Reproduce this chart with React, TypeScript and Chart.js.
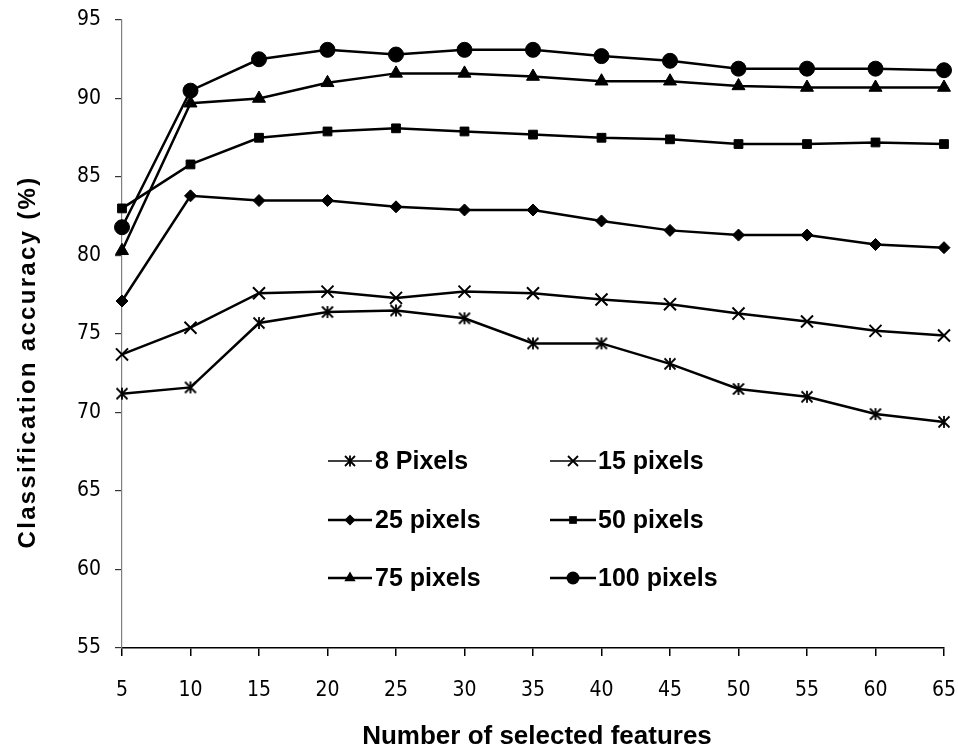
import React, { useEffect, useRef } from "react";
import { Chart, registerables } from "chart.js";

Chart.register(...registerables);

const categories = ["5", "10", "15", "20", "25", "30", "35", "40", "45", "50", "55", "60", "65"];
const px8 = [71.2, 71.6, 75.7, 76.4, 76.5, 76.0, 74.4, 74.4, 73.1, 71.5, 71.0, 69.9, 69.4];
const px15 = [73.7, 75.4, 77.6, 77.7, 77.3, 77.7, 77.6, 77.2, 76.9, 76.3, 75.8, 75.2, 74.9];
const px25 = [77.1, 83.8, 83.5, 83.5, 83.1, 82.9, 82.9, 82.2, 81.6, 81.3, 81.3, 80.7, 80.5];
const px50 = [83.0, 85.8, 87.5, 87.9, 88.1, 87.9, 87.7, 87.5, 87.4, 87.1, 87.1, 87.2, 87.1];
const px75 = [80.3, 89.7, 90.0, 91.0, 91.6, 91.6, 91.4, 91.1, 91.1, 90.8, 90.7, 90.7, 90.7];
const px100 = [81.8, 90.5, 92.5, 93.1, 92.8, 93.1, 93.1, 92.7, 92.4, 91.9, 91.9, 91.9, 91.8];
const seriesNames = ["8 Pixels", "15 pixels", "25 pixels", "50 pixels", "75 pixels", "100 pixels"];
const markerKinds = ["asterisk", "cross", "diamond", "square", "triangle", "circle"];
const yTitle = "Classification accuracy (%)";
const xTitle = "Number of selected features";

function drawMarker(ctx: CanvasRenderingContext2D, kind: string, x: number, y: number, s: number) {
  ctx.save();
  ctx.fillStyle = "#000";
  ctx.strokeStyle = "#000";
  ctx.beginPath();
  if (kind === "circle") {
    ctx.arc(x, y, s, 0, Math.PI * 2);
    ctx.fill();
  } else if (kind === "square") {
    ctx.rect(x - s * 0.7, y - s * 0.7, s * 1.4, s * 1.4);
    ctx.fill();
  } else if (kind === "diamond") {
    ctx.moveTo(x, y - s);
    ctx.lineTo(x + s, y);
    ctx.lineTo(x, y + s);
    ctx.lineTo(x - s, y);
    ctx.closePath();
    ctx.fill();
  } else if (kind === "triangle") {
    const h = s * 1.5;
    const w = s * Math.sqrt(3);
    ctx.moveTo(x, y - s);
    ctx.lineTo(x + w / 2, y - s + h);
    ctx.lineTo(x - w / 2, y - s + h);
    ctx.closePath();
    ctx.fill();
  } else if (kind === "cross") {
    ctx.lineWidth = 1.8;
    ctx.moveTo(x - s, y - s);
    ctx.lineTo(x + s, y + s);
    ctx.moveTo(x + s, y - s);
    ctx.lineTo(x - s, y + s);
    ctx.stroke();
  } else if (kind === "asterisk") {
    ctx.lineWidth = 1.8;
    ctx.moveTo(x - s, y - s);
    ctx.lineTo(x + s, y + s);
    ctx.moveTo(x + s, y - s);
    ctx.lineTo(x - s, y + s);
    ctx.moveTo(x, y - s * 1.1);
    ctx.lineTo(x, y + s * 1.1);
    ctx.stroke();
  }
  ctx.restore();
}

function makeAsterisk(): HTMLCanvasElement {
  const c = document.createElement("canvas");
  c.width = 16;
  c.height = 16;
  const ctx = c.getContext("2d")!;
  drawMarker(ctx, "asterisk", 8, 8, 5.5);
  return c;
}

const tickFont = "'DejaVu Sans Condensed', 'Liberation Sans Narrow', 'Liberation Sans', sans-serif";

export default function App() {
  const ref = useRef<HTMLCanvasElement | null>(null);

  useEffect(() => {
    if (!ref.current) return;
    const asterisk = makeAsterisk();
    const overlay = {
      id: "overlay",
      afterDraw(chart: any) {
        const ctx: CanvasRenderingContext2D = chart.ctx;
        ctx.save();
        ctx.fillStyle = "#000";
        ctx.textAlign = "center";
        ctx.textBaseline = "middle";
        ctx.font = "bold 26px 'Liberation Sans', Arial, sans-serif";
        ctx.fillText(xTitle, 537, 737);
        ctx.save();
        ctx.translate(28, 362);
        ctx.rotate(-Math.PI / 2);
        ctx.font = "bold 24px 'Liberation Sans', Arial, sans-serif";
        (ctx as any).letterSpacing = "2.3px";
        ctx.fillText(yTitle, 0, 0);
        ctx.restore();
        const cols = [
          { lx1: 328, lx2: 372, tx: 375 },
          { lx1: 550, lx2: 596, tx: 598 },
        ];
        const rows = [461, 520, 578];
        const legendSizes = [5, 5, 5.5, 5.5, 6.5, 6.5];
        ctx.font = "bold 25px 'Liberation Sans', Arial, sans-serif";
        ctx.textAlign = "left";
        for (let i = 0; i < seriesNames.length; i++) {
          const col = cols[i % 2];
          const y = rows[Math.floor(i / 2)];
          ctx.beginPath();
          ctx.strokeStyle = "#000";
          ctx.lineWidth = i < 2 ? 1.6 : 2.5;
          ctx.moveTo(col.lx1, y);
          ctx.lineTo(col.lx2, y);
          ctx.stroke();
          drawMarker(ctx, markerKinds[i], (col.lx1 + col.lx2) / 2, y, legendSizes[i]);
          ctx.fillStyle = "#000";
          ctx.fillText(seriesNames[i], col.tx, y + 1);
        }
        ctx.restore();
      },
    };

    const base = {
      borderColor: "#000",
      backgroundColor: "#000",
      pointBackgroundColor: "#000",
      pointBorderColor: "#000",
      borderWidth: 2.5,
      fill: false,
      tension: 0,
    };

    const chart = new Chart(ref.current, {
      type: "line",
      data: {
        labels: categories,
        datasets: [
          { ...base, label: seriesNames[5], data: px100, pointStyle: "circle", pointRadius: 7.5, pointBorderWidth: 1 },
          { ...base, label: seriesNames[4], data: px75, pointStyle: "triangle", pointRadius: 7.5, pointBorderWidth: 1 },
          { ...base, label: seriesNames[3], data: px50, pointStyle: "rect", pointRadius: 6.2, pointBorderWidth: 1 },
          { ...base, label: seriesNames[2], data: px25, pointStyle: "rectRot", pointRadius: 6, pointBorderWidth: 1 },
          { ...base, label: seriesNames[1], data: px15, pointStyle: "crossRot", pointRadius: 8.5, pointBorderWidth: 2 },
          { ...base, label: seriesNames[0], data: px8, pointStyle: asterisk as any, pointRadius: 8, pointBorderWidth: 2 },
        ] as any,
      },
      options: {
        animation: false,
        responsive: false,
        devicePixelRatio: 1,
        events: [],
        layout: { padding: { left: 0, right: 14, top: 20, bottom: 0 } },
        plugins: {
          legend: { display: false },
          tooltip: { enabled: false },
          title: { display: false },
        },
        scales: {
          x: {
            type: "category",
            offset: false,
            grid: { drawOnChartArea: false, drawTicks: true, tickLength: 8, color: "#000", lineWidth: 1.5 },
            border: { display: true, color: "#000", width: 1.5 },
            ticks: {
              color: "#000",
              padding: 22,
              maxRotation: 0,
              autoSkip: false,
              font: { family: tickFont, size: 21 },
            },
            afterFit: (scale: any) => {
              scale.height = 107;
              scale.paddingLeft = 0;
              scale.paddingRight = 0;
            },
          },
          y: {
            type: "linear",
            min: 55,
            max: 95,
            grid: { drawOnChartArea: false, drawTicks: true, tickLength: 7, color: "#333", lineWidth: 1.2 },
            border: { display: true, color: "#7f7f7f", width: 1.2 },
            ticks: {
              stepSize: 5,
              color: "#000",
              padding: 14,
              font: { family: tickFont, size: 21 },
            },
            afterFit: (scale: any) => {
              scale.width = 122;
              scale.paddingTop = 0;
              scale.paddingBottom = 0;
            },
          },
        },
      } as any,
      plugins: [overlay],
    });
    return () => chart.destroy();
  }, []);

  return (
    <div style={{ position: "absolute", left: 0, top: 0, width: 958, height: 755, background: "#fff" }}>
      <canvas ref={ref} width={958} height={755} style={{ width: 958, height: 755, display: "block" }} />
    </div>
  );
}
